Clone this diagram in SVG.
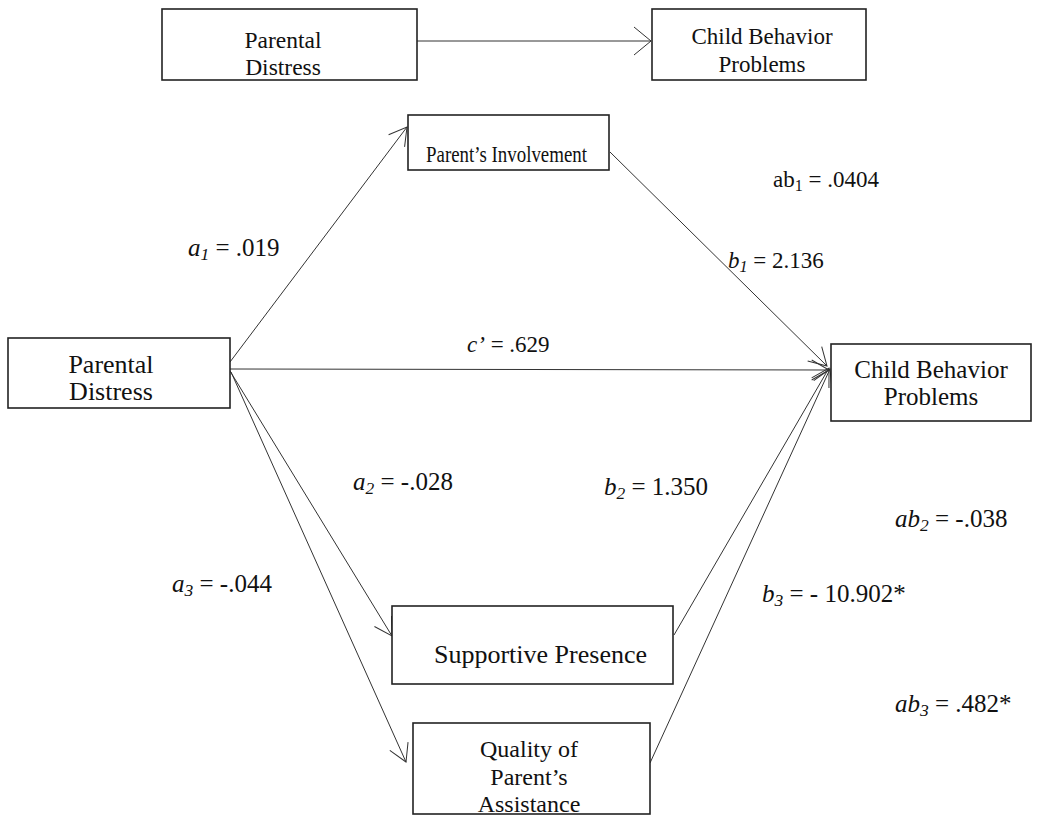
<svg xmlns="http://www.w3.org/2000/svg" width="1061" height="817" viewBox="0 0 1061 817">
<style>
  .box { fill: #fff; stroke: #222; stroke-width: 1.6; }
  .t { font-family: "Liberation Serif", Tinos, "Times New Roman", "DejaVu Serif", "Noto Serif", serif; fill: #111; }
  .c { text-anchor: middle; }
  .i { font-style: italic; }
  .sub { font-size: 70%; }
  .con { fill: none; stroke: #333; stroke-width: 1; }
</style>
<defs>
  <marker id="ah" viewBox="-20 -12 22 24" refX="0" refY="0" markerWidth="22" markerHeight="24" markerUnits="userSpaceOnUse" orient="auto">
    <path d="M-17.3,-10 L0,0 L-17.3,10" fill="none" stroke="#333" stroke-width="1"/>
  </marker>
  <marker id="ah2" viewBox="-20 -16 22 32" refX="0" refY="0" markerWidth="22" markerHeight="32" markerUnits="userSpaceOnUse" orient="auto">
    <path d="M-17,-14 L0,0 L-17,14" fill="none" stroke="#333" stroke-width="1"/>
  </marker>
</defs>

<g id="connectors">
  <line class="con" x1="417" y1="41" x2="651" y2="41" marker-end="url(#ah2)"/>
  <line class="con" x1="230" y1="362" x2="407" y2="127" marker-end="url(#ah)"/>
  <line class="con" x1="230" y1="369" x2="829" y2="370" marker-end="url(#ah)"/>
  <line class="con" x1="610" y1="152" x2="827" y2="366" marker-end="url(#ah)"/>
  <line class="con" x1="230" y1="371" x2="392" y2="636" marker-end="url(#ah)"/>
  <line class="con" x1="231" y1="372" x2="406" y2="762" marker-end="url(#ah)"/>
  <line class="con" x1="674" y1="635" x2="829" y2="368" marker-end="url(#ah)"/>
  <line class="con" x1="650" y1="763" x2="830" y2="369" marker-end="url(#ah)"/>
</g>

<g id="node-top-parental-distress">
  <rect class="box" x="162" y="9" width="255" height="71"/>
  <text class="t c" x="283" y="48" font-size="23.5">Parental</text>
  <text class="t c" x="283" y="75" font-size="23.5">Distress</text>
</g>

<g id="node-top-child-behavior">
  <rect class="box" x="652" y="9" width="214" height="71"/>
  <text class="t c" x="762" y="44" font-size="23">Child Behavior</text>
  <text class="t c" x="762" y="72" font-size="23">Problems</text>
</g>

<g id="node-parents-involvement">
  <rect class="box" x="408" y="115" width="201" height="55"/>
  <text class="t" x="426" y="162" font-size="23" textLength="161" lengthAdjust="spacingAndGlyphs">Parent’s Involvement</text>
</g>

<g id="node-parental-distress">
  <rect class="box" x="8" y="338" width="222" height="70"/>
  <text class="t c" x="111" y="373" font-size="26">Parental</text>
  <text class="t c" x="111" y="400" font-size="26">Distress</text>
</g>

<g id="node-child-behavior">
  <rect class="box" x="831" y="344" width="200" height="77"/>
  <text class="t c" x="931" y="378" font-size="25">Child Behavior</text>
  <text class="t c" x="931" y="405" font-size="25">Problems</text>
</g>

<g id="node-supportive-presence">
  <rect class="box" x="392" y="606" width="281" height="78"/>
  <text class="t" x="434" y="663" font-size="26">Supportive Presence</text>
</g>

<g id="node-quality">
  <rect class="box" x="413" y="723" width="237" height="91"/>
  <text class="t c" x="529" y="757" font-size="24">Quality of</text>
  <text class="t c" x="529" y="785" font-size="24">Parent’s</text>
  <text class="t c" x="529" y="812" font-size="24">Assistance</text>
</g>

<g id="labels">
  <text class="t" x="188" y="256" font-size="25"><tspan class="i">a</tspan><tspan class="i sub" dy="4">1</tspan><tspan dy="-4"> = .019</tspan></text>
  <text class="t" x="773" y="187" font-size="23">ab<tspan class="sub" dy="4">1</tspan><tspan dy="-4"> = .0404</tspan></text>
  <text class="t" x="728" y="268" font-size="23"><tspan class="i">b</tspan><tspan class="i sub" dy="4">1</tspan><tspan dy="-4"> = 2.136</tspan></text>
  <text class="t" x="467" y="352" font-size="23"><tspan class="i">c’</tspan> = .629</text>
  <text class="t" x="353" y="490" font-size="25"><tspan class="i">a</tspan><tspan class="i sub" dy="4">2</tspan><tspan dy="-4"> = -.028</tspan></text>
  <text class="t" x="604" y="495" font-size="25"><tspan class="i">b</tspan><tspan class="i sub" dy="4">2</tspan><tspan dy="-4"> = 1.350</tspan></text>
  <text class="t" x="895" y="527" font-size="25"><tspan class="i">ab</tspan><tspan class="i sub" dy="4">2</tspan><tspan dy="-4"> = -.038</tspan></text>
  <text class="t" x="172" y="592" font-size="25"><tspan class="i">a</tspan><tspan class="i sub" dy="4">3</tspan><tspan dy="-4"> = -.044</tspan></text>
  <text class="t" x="762" y="602" font-size="25"><tspan class="i">b</tspan><tspan class="i sub" dy="4">3</tspan><tspan dy="-4"> = - 10.902*</tspan></text>
  <text class="t" x="895" y="712" font-size="25"><tspan class="i">ab</tspan><tspan class="i sub" dy="4">3</tspan><tspan dy="-4"> = .482*</tspan></text>
</g>
</svg>
